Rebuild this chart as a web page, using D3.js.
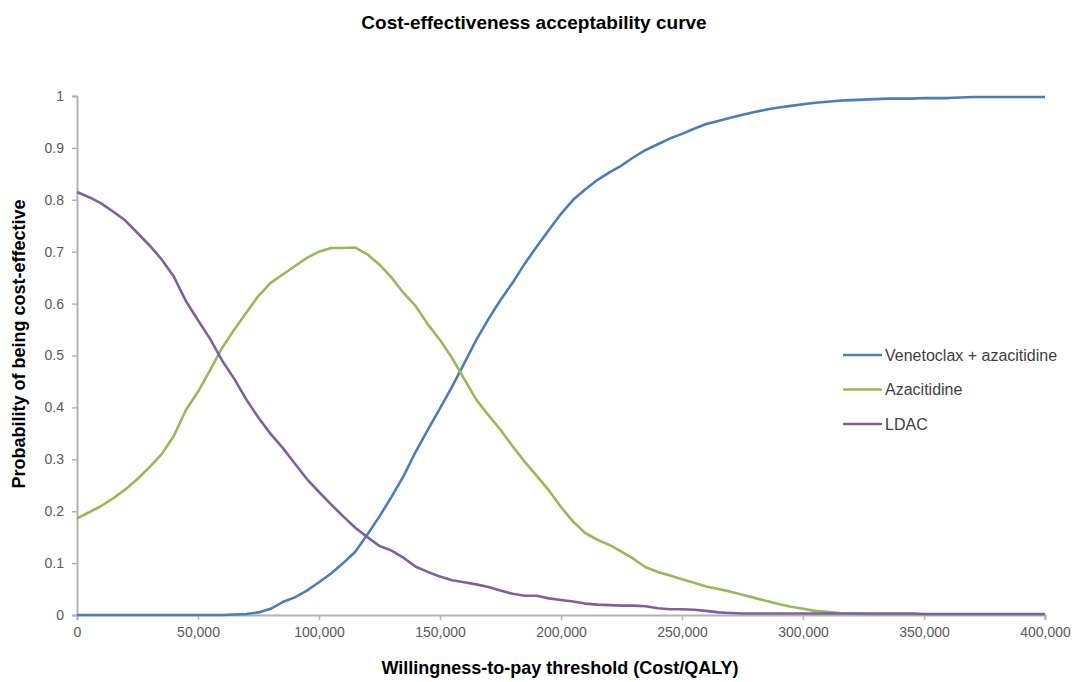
<!DOCTYPE html>
<html><head><meta charset="utf-8">
<script src="https://cdn.jsdelivr.net/npm/d3@7"></script>
<style>body{margin:0;background:#fff}svg{display:block}</style>
</head><body><svg id="c" width="1077" height="682"></svg>
<script>
const wtp = d3.range(0, 400001, 5000);
const venetoclax = [0,0,0,0,0,0,0,0,0,0,0,0,0,0.001,0.002,0.005,0.012,0.025,0.034,0.047,
0.063,0.08,0.1,0.122,0.155,0.19,0.228,0.268,0.315,0.357,0.398,0.44,0.485,0.53,0.57,0.607,0.64,0.677,0.71,0.742,
0.773,0.8,0.82,0.838,0.853,0.866,0.882,0.896,0.907,0.918,0.927,0.937,0.946,0.952,0.958,0.964,0.969,0.974,0.978,0.981,
0.984,0.987,0.989,0.991,0.992,0.993,0.994,0.995,0.995,0.995,0.996,0.996,0.996,0.997,0.998,0.998,0.998,0.998,0.998,0.998,0.998];
const azacitidine = [0.186,0.198,0.21,0.225,0.242,0.262,0.285,0.31,0.345,0.395,0.43,0.472,0.515,0.55,0.583,0.615,0.64,0.656,0.672,0.688,
0.70,0.707,0.707,0.708,0.695,0.675,0.65,0.62,0.595,0.56,0.53,0.495,0.455,0.415,0.385,0.357,0.325,0.295,0.268,0.24,
0.208,0.18,0.158,0.145,0.135,0.122,0.108,0.092,0.083,0.076,0.069,0.062,0.055,0.05,0.045,0.039,0.033,0.027,0.021,0.016,
0.012,0.008,0.006,0.004,0.003,0.002,0.001,0.001,0.001,0.001,0.001,0.001,0.001,0.001,0.001,0.001,0.001,0.001,0.001,0.001,0.001];
const ldac = [0.815,0.805,0.793,0.777,0.76,0.736,0.712,0.685,0.652,0.605,0.568,0.532,0.49,0.455,0.415,0.38,0.349,0.322,0.292,0.262,
0.237,0.213,0.19,0.168,0.15,0.133,0.124,0.11,0.093,0.083,0.074,0.067,0.063,0.059,0.054,0.047,0.041,0.037,0.037,0.032,
0.029,0.026,0.022,0.02,0.019,0.018,0.018,0.017,0.013,0.011,0.011,0.01,0.008,0.005,0.004,0.003,0.003,0.003,0.003,0.003,
0.003,0.003,0.003,0.003,0.003,0.003,0.003,0.003,0.003,0.003,0.002,0.002,0.002,0.002,0.002,0.002,0.002,0.002,0.002,0.002,0.002];
const seriesNames = ["Venetoclax + azacitidine","Azacitidine","LDAC"];
const seriesColors = ["#4a7ebb","#98b954","#7d60a0"];
const xTicks = d3.range(0, 400001, 50000);
const yTicks = d3.range(0, 11).map(d => d/10);

const svg = d3.select("#c");
const font = "'Liberation Sans', Arial, sans-serif";
const x = d3.scaleLinear().domain([0, 400000]).range([77, 1045]);
const y = d3.scaleLinear().domain([0, 1]).range([615, 96]);

svg.append("text").attr("x", 534).attr("y", 29).attr("text-anchor", "middle")
  .attr("font-family", font).attr("font-weight", "bold").attr("font-size", 19).attr("fill", "#000")
  .text("Cost-effectiveness acceptability curve");

const yAxis = svg.append("g").attr("transform", "translate(77,0)")
  .call(d3.axisLeft(y).tickValues(yTicks).tickSize(5).tickPadding(8).tickFormat(d3.format("")));
const xAxis = svg.append("g").attr("transform", "translate(0,615)")
  .call(d3.axisBottom(x).tickValues(xTicks).tickSize(5).tickPadding(7).tickFormat(d3.format(",")));
[yAxis, xAxis].forEach(a => {
  a.select(".domain").attr("stroke", "#b3b3b3").attr("stroke-width", 2);
  a.selectAll(".tick line").attr("stroke", "#b3b3b3").attr("stroke-width", 1.5);
  a.selectAll(".tick text").attr("fill", "#595959").attr("font-family", font).attr("font-size", 14);
});

const series = [venetoclax, azacitidine, ldac];
const line = d3.line().x((d, i) => x(wtp[i])).y(d => y(d));
series.forEach((s, k) => {
  svg.append("path").datum(s).attr("d", line).attr("fill", "none")
    .attr("stroke", seriesColors[k]).attr("stroke-width", 2.6).attr("stroke-linejoin", "round");
});

svg.append("text").attr("transform", "translate(25,344) rotate(-90)").attr("text-anchor", "middle")
  .attr("font-family", font).attr("font-weight", "bold").attr("font-size", 18).text("Probability of being cost-effective");
svg.append("text").attr("x", 560).attr("y", 674).attr("text-anchor", "middle")
  .attr("font-family", font).attr("font-weight", "bold").attr("font-size", 18).text("Willingness-to-pay threshold (Cost/QALY)");

const leg = svg.append("g");
seriesNames.forEach((n, k) => {
  const yy = 355 + k * 34.5;
  leg.append("line").attr("x1", 843).attr("x2", 882).attr("y1", yy).attr("y2", yy)
    .attr("stroke", seriesColors[k]).attr("stroke-width", 2.6);
  leg.append("text").attr("x", 885).attr("y", yy + 5.5).attr("font-family", font).attr("font-size", 16)
    .attr("fill", "#404040").text(n);
});
</script></body></html>
